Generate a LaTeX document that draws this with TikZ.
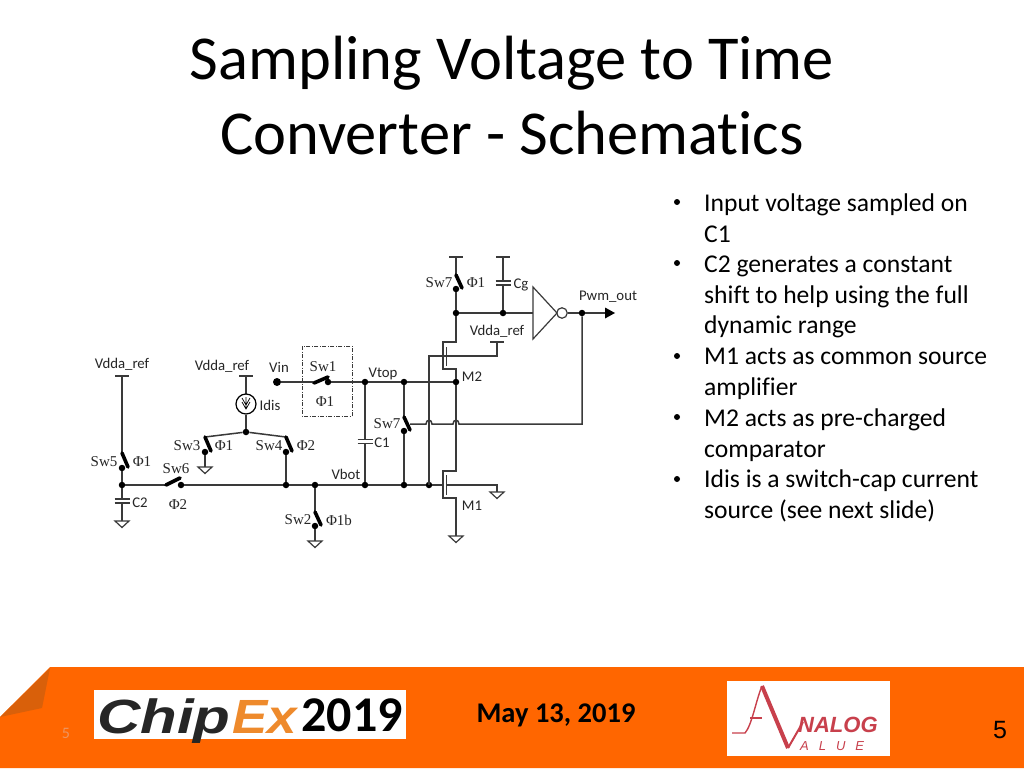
\documentclass[tikz,border=0pt]{standalone}
\usepackage{fontspec}
\usepackage{graphicx}
\setmainfont{Carlito}[Ligatures={NoCommon}]
\newfontfamily\serifsw{Liberation Serif}
\newfontfamily\arialf{Liberation Sans}
\definecolor{footorange}{HTML}{FF6600}
\definecolor{foldorange}{HTML}{D9600A}
\definecolor{wiregray}{HTML}{3A3A3A}
\definecolor{logored}{HTML}{C8404C}
\definecolor{logoorange}{HTML}{EE8A2C}
\definecolor{pagetan}{HTML}{EE9560}
\tikzset{
  wire/.style={draw=wiregray,line width=1.5pt},
  blade/.style={draw=black,line width=3.6pt,line cap=round},
  dot/.style={circle,fill=black,inner sep=0pt,minimum size=6.5pt},
  lab/.style={inner sep=0pt,font=\fontsize{14.8}{16}\selectfont,text=black!85},
  swlab/.style={inner sep=0pt,font=\serifsw\fontsize{15}{16}\selectfont,text=black!85},
  bullet/.style={inner sep=0pt,anchor=north west,align=left,font=\fontsize{25.6}{30.7}\selectfont},
  gnd/.pic={\draw[wire,line width=1.2pt] (-7,0) -- (7,0) -- (0,6.5) -- cycle;},
  rail/.pic={\draw[wire,line width=1.8pt] (-7,0) -- (7,0);},
  capacitor/.pic={\draw[wire,line width=1.5pt] (-7.5,-2) -- (7.5,-2) (-7.5,2) -- (7.5,2);}
}
\begin{document}
\begin{tikzpicture}[x=1pt,y=-1pt]
\useasboundingbox (0,0) rectangle (1024,768);
\fill[white] (0,0) rectangle (1024,768);

% title and bullets
\node[inner sep=0pt,align=center,font=\fontsize{62.5}{75}\selectfont] (title) at (512,96) {Sampling Voltage to Time\\Converter - Schematics};
\node[bullet] (b1) at (704,193.5) {Input voltage sampled on\\C1};
\node[bullet] (b2) at (704,255.5) {C2 generates a constant\\shift to help using the full\\dynamic range};
\node[bullet] (b3) at (704,348) {M1 acts as common source\\amplifier};
\node[bullet] (b4) at (704,408.5) {M2 acts as pre-charged\\comparator};
\node[bullet] (b5) at (704,470) {Idis is a switch-cap current\\source (see next slide)};
\foreach \y/\n in {202/m1,263/m2,356/m3,417/m4,479/m5}
  \fill (677,\y) circle (3pt);

% junctions
\node[dot] (outA) at (456,313) {};
\node[dot] (outB) at (503,313) {};
\node[dot] (outC) at (582,313) {};
\node[dot] (sw7a) at (456,289) {};
\node[dot] (top1) at (365,382) {};
\node[dot] (top2) at (404,382) {};
\node[dot] (top3) at (456,382) {};
\node[dot] (sw1b) at (328,382) {};
\node[circle,fill=black,inner sep=0pt,minimum size=8pt] (vin) at (277,382) {};
\node[dot] (sw7b) at (404,431) {};
\node[dot] (bot1) at (122,485) {};
\node[dot] (sw6b) at (181,485) {};
\node[dot] (bot2) at (286,485) {};
\node[dot] (bot3) at (315,485) {};
\node[dot] (bot4) at (365,485) {};
\node[dot] (bot5) at (404,485) {};
\node[dot] (bot6) at (429,485) {};
\node[dot] (sw5b) at (122,468) {};
\node[dot] (idisb) at (246,432) {};
\node[dot] (sw3b) at (205,452) {};
\node[dot] (sw4b) at (286,452) {};
\node[dot] (sw2b) at (315,526) {};
\coordinate (sw7aT) at (456,275);
\coordinate (sw7bT) at (404,417);
\coordinate (sw7bS) at (410,424);
\coordinate (sw5T) at (122,452);
\coordinate (sw6L) at (166,485);
\coordinate (sw1L) at (313,382);
\coordinate (sw3T) at (205,437);
\coordinate (sw4T) at (286,437);
\coordinate (sw2T) at (315,511);

% rails and grounds
\pic at (456,257) {rail};
\pic at (503,257) {rail};
\pic at (497,342) {rail};
\pic at (122,376) {rail};
\pic at (246,376) {rail};
\pic at (122,521) {gnd};
\pic at (205,467) {gnd};
\pic at (315,541) {gnd};
\pic at (497,492) {gnd};
\pic at (456,536) {gnd};
\pic at (503,283) {capacitor};
\pic at (365,441.5) {capacitor};
\pic at (122,501) {capacitor};

% wires
\draw[wire] (456,257) -- (sw7aT);
\draw[wire] (sw7a) -- (outA);
\draw[wire] (503,257) -- (503,281);
\draw[wire] (503,285) -- (outB);
\draw[wire] (outA) -- (outB) -- (533,313);
\node[draw=wiregray,line width=1.2pt,circle,inner sep=0pt,minimum size=10.5pt,fill=white] (bubble) at (562,313) {};
\draw[wiregray,line width=1.2pt] (533,287) -- (533,339) -- (557,313) -- cycle;
\coordinate (pwmE) at (615,313);
\draw[wire] (bubble) -- (outC) -- (605,313);
\fill (605,307.5) -- (pwmE) -- (605,318.5) -- cycle;
\draw[wire] (outA) -- (456,342) -- (443,342) -- (443,369) -- (456,369) -- (top3);
\draw[wire] (446.5,347) -- (446.5,366);
\draw[wire] (429,485) -- (429,356) -- (446.5,356);
\draw[wire] (446.5,356) -- (497,356) -- (497,342);
\draw[wire] (vin) -- (sw1L);
\draw[wire] (sw1b) -- (top1) -- (top2) -- (top3);
\draw[wire] (top1) -- (365,439.5);
\draw[wire] (365,443.5) -- (bot4);
\draw[wire] (top2) -- (sw7bT);
\draw[wire] (sw7b) -- (bot5);
\draw[wire] (sw7bS) -- (426,424) .. controls (426,419) and (432,419) .. (432,424) -- (453,424) .. controls (453,419) and (459,419) .. (459,424) -- (582,424) -- (outC);
\draw[wire] (top3) -- (456,471) -- (443,471) -- (443,498) -- (456,498) -- (456,536);
\draw[wire] (446.5,475) -- (446.5,495);
\draw[wire] (bot1) -- (sw6L);
\draw[wire] (sw6b) -- (bot2) -- (bot3) -- (bot4) -- (bot5) -- (bot6) -- (443,485);
\draw[wire] (446.5,485) -- (497,485) -- (497,492);
\draw[wire] (122,376) -- (sw5T);
\draw[wire] (sw5b) -- (bot1) -- (122,499);
\draw[wire] (122,503) -- (122,521);
\draw[wire] (246,376) -- (246,394);
\node[draw=black,line width=1.2pt,circle,inner sep=0pt,minimum size=20pt] (idis) at (246,404) {};
\draw[black,line width=.7pt] (242,398) -- (246,405) -- (250,398) (242,402) -- (246,409) -- (250,402) (246,397) -- (246,409);
\draw[wire] (idis) -- (idisb);
\draw[wire] (sw3T) -- (idisb) -- (sw4T);
\draw[wire] (sw3b) -- (205,467);
\draw[wire] (sw4b) -- (bot2);
\draw[wire] (bot3) -- (sw2T);
\draw[wire] (sw2b) -- (315,541);

% switch blades
\draw[blade] (456,275) -- (462,288);
\draw[blade] (404,417) -- (410,430);
\draw[blade] (122,453) -- (128,467);
\draw[blade] (205,437) -- (211,451);
\draw[blade] (286,437) -- (292,451);
\draw[blade] (315,512) -- (321,525);
\draw[blade] (166,485) -- (180,478);
\draw[blade] (314,383) -- (328,377);
\draw[wiregray,line width=.9pt,dash pattern=on 4pt off 1.5pt on 1pt off 1.5pt] (302,346) rectangle (352,416);

% labels
\node[swlab] (l1) at (439,283) {Sw7};
\node[swlab] (l2) at (476,283) {Φ1};
\node[lab] (l3) at (521,285) {Cg};
\node[lab] (l4) at (608,297) {Pwm\_out};
\node[lab] (l5) at (497,331) {Vdda\_ref};
\node[lab] (l6) at (472,377) {M2};
\node[lab] (l7) at (383,374) {Vtop};
\node[lab] (l8) at (122,364) {Vdda\_ref};
\node[lab] (l9) at (222,366) {Vdda\_ref};
\node[lab] (l10) at (279,367) {Vin};
\node[swlab] (l11) at (323,367) {Sw1};
\node[swlab] (l12) at (325,402) {Φ1};
\node[lab] (l13) at (270,405) {Idis};
\node[swlab] (l14) at (387,424) {Sw7};
\node[lab] (l15) at (382,443) {C1};
\node[swlab] (l16) at (187,446) {Sw3};
\node[swlab] (l17) at (224,446) {Φ1};
\node[swlab] (l18) at (269,446) {Sw4};
\node[swlab] (l19) at (306,446) {Φ2};
\node[swlab] (l20) at (104,462) {Sw5};
\node[swlab] (l21) at (142,462) {Φ1};
\node[swlab] (l22) at (176,469) {Sw6};
\node[lab] (l23) at (346,474) {Vbot};
\node[lab] (l24) at (140,503) {C2};
\node[swlab] (l25) at (178,505) {Φ2};
\node[lab] (l26) at (472,506) {M1};
\node[swlab] (l27) at (298,520) {Sw2};
\node[swlab] (l28) at (339,520) {Φ1b};

% footer
\fill[footorange] (0,717) -- (50,667) -- (1024,667) -- (1024,768) -- (0,768) -- cycle;
\fill[foldorange] (0,717) -- (50,668) -- (42,708) -- cycle;
\node[inner sep=0pt,text=pagetan,font=\fontsize{16}{16}\selectfont] (pgleft) at (66,733) {5};
\node[inner sep=0pt,font=\bfseries\fontsize{28.5}{30}\selectfont] (date) at (556,715) {May 13, 2019};
\node[inner sep=0pt,font=\arialf\fontsize{25}{27}\selectfont] (pgright) at (1000,730) {5};

% logos
\fill[white] (94,690) rectangle (406,739);
\node[inner sep=0pt,anchor=base west,text=black!85,font=\arialf\bfseries\itshape\fontsize{48}{50}\selectfont] (chip) at (97,733) {\scalebox{1.25}[1]{Chip}};
\node[inner sep=0pt,anchor=base west,text=logoorange,font=\arialf\bfseries\itshape\fontsize{48}{50}\selectfont] (ex) at (232,733) {\scalebox{1.1}[1]{Ex}};
\node[inner sep=0pt,anchor=base east,font=\bfseries\fontsize{50}{52}\selectfont] (yr) at (403,731) {2019};
\fill[white] (727,681) rectangle (890,756);
\draw[logored,line width=1.4pt] (732,733) -- (745,733) .. controls (752,725) and (756,700) .. (762,686);
\draw[logored,line width=1.2pt] (750,718) -- (762,718);
\draw[logored,line width=4pt] (762,686) -- (788,748);
\draw[logored,line width=2pt] (788,748) -- (803,722);
\node[inner sep=0pt,anchor=base west,text=logored,font=\arialf\bfseries\itshape\fontsize{22}{24}\selectfont] (nalog) at (798,732) {NALOG};
\node[inner sep=0pt,anchor=base west,text=logored,font=\arialf\itshape\fontsize{13}{15}\selectfont] (alue) at (800,750) {A\hspace{10pt}L\hspace{10pt}U\hspace{10pt}E};
\end{tikzpicture}
\end{document}
